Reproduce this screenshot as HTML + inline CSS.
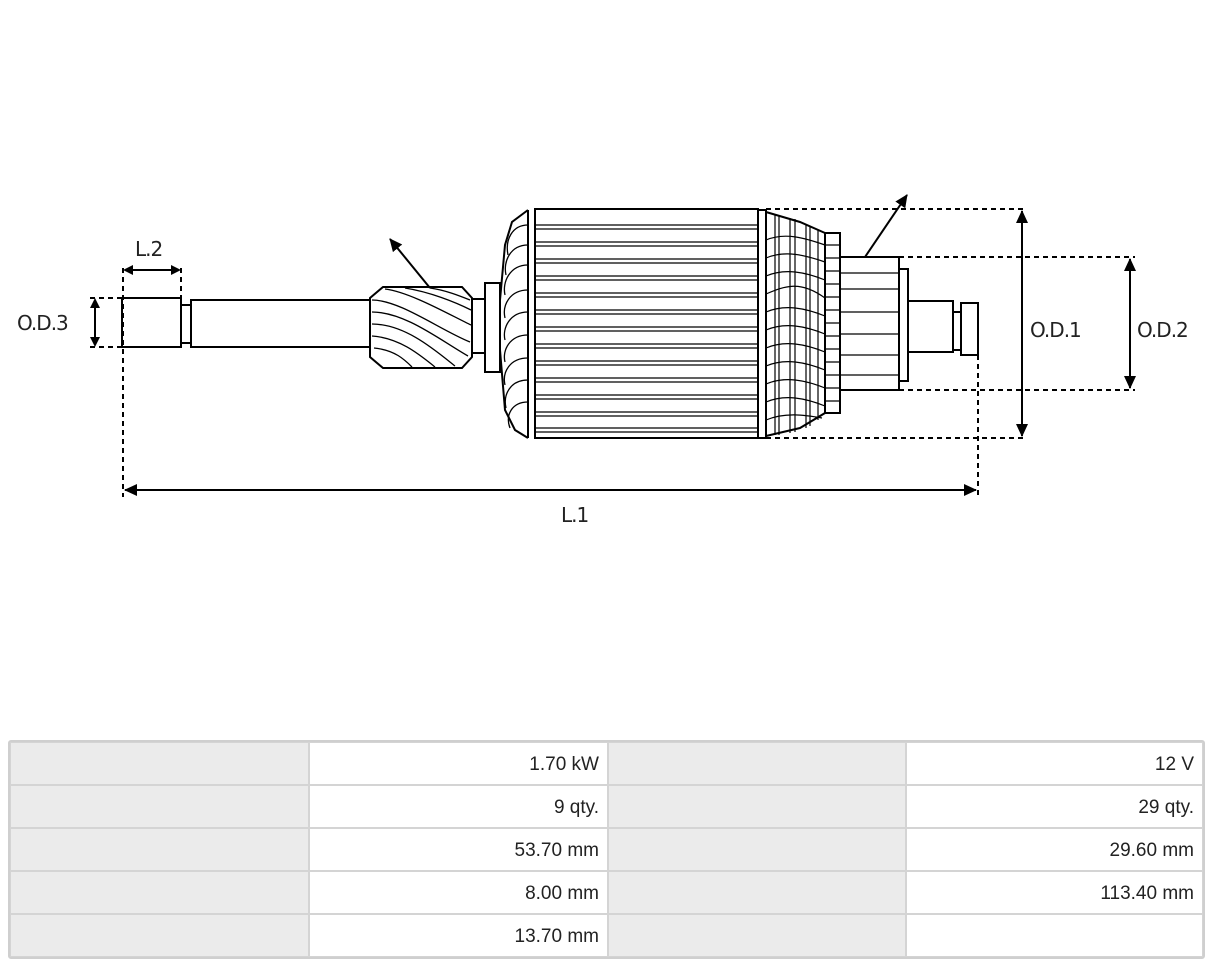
<!DOCTYPE html>
<html><head><meta charset="utf-8"><style>
html,body{margin:0;padding:0;background:#fff;width:1208px;height:965px;overflow:hidden;font-family:"Liberation Sans",sans-serif}
svg{position:absolute;left:0;top:0}
table{position:absolute;left:8px;top:740px;border-collapse:separate;border-spacing:0;width:1197px;box-sizing:border-box;table-layout:fixed;border:2px solid #cfcfcf;border-radius:3px}
td{height:43px;border:1px solid #d4d4d4;font-size:19px;color:#222;text-align:right;padding:0 8px;box-sizing:border-box;vertical-align:middle;padding-top:3px;overflow:hidden}
td.g{background:#ebebeb}
td.w{background:#fff}
</style></head><body>
<svg width="1208" height="735" viewBox="0 0 1208 735">
<defs><marker id="a" markerWidth="10" markerHeight="10" refX="8" refY="5" orient="auto" markerUnits="userSpaceOnUse"><path d="M0,0 L10,5 L0,10 z" fill="#000"/></marker>
<marker id="b" markerWidth="14" markerHeight="14" refX="12" refY="7" orient="auto" markerUnits="userSpaceOnUse"><path d="M0,1 L13,7 L0,13 z" fill="#000"/></marker></defs>
<g fill="none" stroke="#000" stroke-width="2">
<rect x="122" y="298" width="59" height="49"/>
<rect x="181" y="305" width="10" height="38"/>
<rect x="191" y="300" width="179" height="47"/>
<path d="M383,287 L462,287 L472,298 L472,357 L462,368 L383,368 L370,357 L370,298 Z"/>
<g stroke-width="1.3">
<path d="M372,300 C400,300 440,330 470,342"/><path d="M372,312 C405,312 440,340 468,356"/><path d="M372,324 C405,324 435,350 455,366"/><path d="M372,336 C400,338 420,355 435,367"/><path d="M374,348 C395,350 405,360 412,367"/><path d="M385,289 C410,292 450,315 471,325"/><path d="M405,288 C430,292 455,302 471,310"/><path d="M430,288 C445,290 460,296 470,300"/>
</g>
<rect x="472" y="299" width="13" height="54"/>
<rect x="485" y="283" width="15" height="89"/>
<path d="M528,210 L512,222 L505,245 L500,300 L500,350 L505,410 L515,430 L528,438"/>
<g stroke-width="1.3">
<path d="M528,225 C512,225 505,240 508,255"/><path d="M528,245 C510,245 503,262 506,275"/><path d="M528,265 C510,265 502,282 505,295"/><path d="M528,290 C510,290 502,305 505,318"/><path d="M528,312 C510,312 502,328 505,340"/><path d="M528,335 C510,335 502,350 505,362"/><path d="M528,358 C510,358 502,372 505,385"/><path d="M528,380 C510,380 503,395 506,408"/><path d="M528,402 C512,402 505,415 510,428"/>
</g>
<line x1="528" y1="210" x2="528" y2="438"/>
<rect x="535" y="209" width="223" height="229"/>
<g stroke-width="1.2">
<path d="M535,225H758M535,229H758M535,242H758M535,246H758M535,259H758M535,263H758M535,276H758M535,280H758M535,293H758M535,297H758M535,310H758M535,314H758M535,327H758M535,331H758M535,344H758M535,348H758M535,361H758M535,365H758M535,378H758M535,382H758M535,395H758M535,399H758M535,412H758M535,416H758M535,428H758M535,432H758"/>
</g>
<rect x="758" y="210" width="8" height="228"/>
<path d="M766,212 L800,222 L825,233 L825,413 L800,428 L766,436"/>
<g stroke-width="1.2">
<path d="M766,240 C785,232 805,238 825,245M766,258 C785,250 805,255 825,262M766,276 C785,268 805,272 825,280M766,294 C785,286 800,280 825,298M766,312 C785,304 805,308 825,316M766,330 C785,322 805,326 825,334M766,348 C785,340 805,344 825,352M766,366 C785,358 805,362 825,370M766,384 C785,376 805,380 825,388M766,402 C785,394 805,398 825,406M766,420 C785,412 805,415 822,418"/>
<path d="M775,215V435M779,215V435M790,218V433M795,219V432M806,224V428M810,226V426M818,230V420"/>
</g>
<rect x="825" y="233" width="15" height="180"/>
<g stroke-width="1.2"><path d="M825,245H840M825,258H840M825,271H840M825,284H840M825,297H840M825,310H840M825,323H840M825,336H840M825,349H840M825,362H840M825,375H840M825,388H840M825,401H840"/></g>
<rect x="840" y="257" width="59" height="133"/>
<g stroke-width="1.2"><path d="M840,273H899M840,289H899M840,312H899M840,334H899M840,355H899M840,375H899"/></g>
<rect x="899" y="269" width="9" height="112"/>
<rect x="908" y="301" width="45" height="51"/>
<rect x="953" y="312" width="8" height="38"/>
<rect x="961" y="303" width="17" height="52"/>
</g>
<g stroke="#000" stroke-width="2" stroke-dasharray="5,4" fill="none">
<path d="M766,209H1025M899,257H1135M899,390H1135M766,438H1025"/>
<path d="M978,355V497M123,268V497M181,268V298M90,298H122M90,347H122"/>
</g>
<g stroke="#000" stroke-width="2" fill="none">
<line x1="430" y1="288" x2="390" y2="239" marker-end="url(#b)"/>
<line x1="865" y1="257" x2="907" y2="195" marker-end="url(#b)"/>
<line x1="1022" y1="225" x2="1022" y2="211" marker-end="url(#b)"/>
<line x1="1022" y1="220" x2="1022" y2="426"/>
<line x1="1022" y1="420" x2="1022" y2="436" marker-end="url(#b)"/>
<line x1="1130" y1="272" x2="1130" y2="259" marker-end="url(#b)"/>
<line x1="1130" y1="268" x2="1130" y2="376"/>
<line x1="1130" y1="372" x2="1130" y2="388" marker-end="url(#b)"/>
<line x1="138" y1="490" x2="125" y2="490" marker-end="url(#b)"/>
<line x1="134" y1="490" x2="966" y2="490"/>
<line x1="960" y1="490" x2="976" y2="490" marker-end="url(#b)"/>
<line x1="135" y1="270" x2="125" y2="270" marker-end="url(#a)"/>
<line x1="132" y1="270" x2="172" y2="270"/>
<line x1="169" y1="270" x2="179" y2="270" marker-end="url(#a)"/>
<line x1="95" y1="310" x2="95" y2="300" marker-end="url(#a)"/>
<line x1="95" y1="307" x2="95" y2="338"/>
<line x1="95" y1="335" x2="95" y2="345" marker-end="url(#a)"/>
</g>
<g font-family="'DejaVu Sans','Liberation Sans',sans-serif" font-size="20" fill="#222">
<text x="135" y="256" letter-spacing="-1">L.2</text>
<text x="17" y="330" letter-spacing="-1">O.D.3</text>
<text x="1030" y="337" letter-spacing="-1">O.D.1</text>
<text x="1137" y="337" letter-spacing="-1">O.D.2</text>
<text x="561" y="522" letter-spacing="-1">L.1</text>
</g>
</svg>
<table>
<colgroup><col style="width:299px"><col style="width:299px"><col style="width:298px"><col style="width:297px"></colgroup>
<tr><td class="g"></td><td class="w">1.70 kW</td><td class="g"></td><td class="w">12 V</td></tr>
<tr><td class="g"></td><td class="w">9 qty.</td><td class="g"></td><td class="w">29 qty.</td></tr>
<tr><td class="g"></td><td class="w">53.70 mm</td><td class="g"></td><td class="w">29.60 mm</td></tr>
<tr><td class="g"></td><td class="w">8.00 mm</td><td class="g"></td><td class="w">113.40 mm</td></tr>
<tr><td class="g"></td><td class="w">13.70 mm</td><td class="g"></td><td class="w"></td></tr>
</table>
</body></html>
